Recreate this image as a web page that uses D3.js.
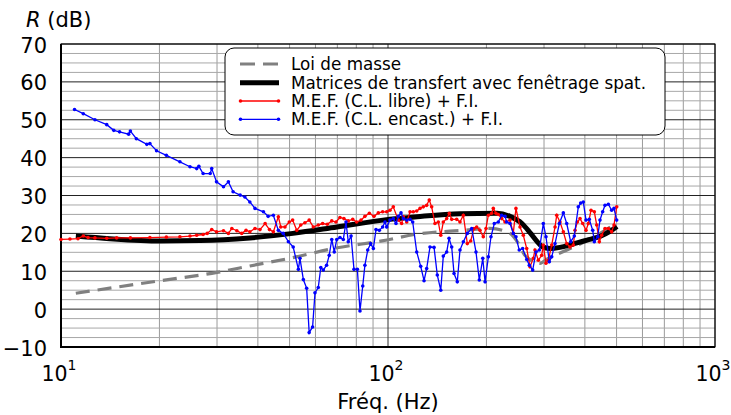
<!DOCTYPE html>
<html><head><meta charset="utf-8">
<script src="https://cdn.jsdelivr.net/npm/d3@7"></script>
<style>body{margin:0;background:#fff}svg{display:block;font-family:"DejaVu Sans",sans-serif}</style>
</head><body><svg id="c" width="731" height="415"></svg>
<script>
// ---- data ----
const xTicks = [10, 100, 1000];
const xTickExp = ["1", "2", "3"];
const yTicks = [-10, 0, 10, 20, 30, 40, 50, 60, 70];
const seriesNames = ["Loi de masse", "Matrices de transfert avec fenêtrage spat.", "M.E.F. (C.L. libre) + F.I.", "M.E.F. (C.L. encast.) + F.I."];

const massF = [11.1,20.1,30.0,37.8,51.2,68.9,95.9,122.7,169.6,205.1,236.1,249.8,262.4,291.6,308.6,335.7,414.7,501.4];
const massR = [4.2,7.5,9.7,11.4,13.6,16.1,18.0,19.8,20.8,21.3,20.0,17.5,14.2,12.1,13.4,14.8,18.5,22.8];

const tmmF = [11.1,14.1,20.1,26.6,37.8,51.2,69.8,96.5,122.7,166.0,215.4,236.1,256.9,271.8,285.5,295.8,312.9,335.7,367.9,406.1,444.9,477.4,501.4];
const tmmR = [19.3,18.6,18.0,18.1,18.8,20.0,21.7,23.5,24.4,25.2,25.3,24.5,22.6,20.2,17.9,16.5,16.0,16.3,17.2,18.2,19.2,20.5,21.8];

const libreF = [10.0,10.65,11.27,11.7,12.1,12.7,13.8,14.8,16.3,18.7,21.0,23.1,24.8,26.0,27.2,28.0,28.9,29.9,31.4,32.5,33.3,34.5,35.7,36.8,37.8,39.2,40.6,42.1,43.4,44.6,46.2,47.0,48.4,49.9,51.1,52.6,54.1,55.7,57.4,59.1,61.2,63.1,65.2,67.3,69.3,71.3,73.3,75.6,78.0,80.2,82.7,85.0,87.7,90.6,93.4,96.3,99.1,101.4,103.8,107.5,110.1,111.4,114.1,116.8,119.5,122.4,125.3,128.2,131.3,133.7,136.0,139.2,142.5,145.0,147.6,151.2,154.0,156.6,162.2,166.0,170.0,174.8,179.0,183.2,186.7,191.1,195.6,199.4,202.7,207.5,209.9,213.9,217.4,222.7,228.0,236.1,241.6,246.2,253.3,259.3,265.6,271.8,278.2,281.5,288.2,295.1,298.5,304.2,309.2,316.7,324.2,328.1,335.7,343.7,352.0,360.3,368.8,373.2,379.3,386.6,394.0,403.2,409.8,417.7,427.5,434.8,442.8,450.3,460.9,471.8,483.1,491.0,500.5];
const libreR = [18.4,18.5,18.6,19.3,18.9,18.8,18.7,18.8,18.8,18.9,19.0,19.1,19.3,19.5,19.7,20.0,21.0,20.4,20.7,20.0,21.3,20.7,20.0,20.8,20.4,21.3,21.0,22.6,21.0,20.4,24.4,21.7,21.7,23.0,23.5,20.8,22.2,22.8,23.5,21.7,22.2,22.6,22.4,23.3,23.0,24.2,23.9,23.3,23.7,23.0,23.5,24.5,25.3,24.5,25.4,25.7,25.7,26.1,27.0,23.5,22.6,24.4,23.0,25.7,25.7,25.9,26.6,27.0,27.4,28.8,27.0,22.6,23.0,19.5,23.0,23.9,25.3,23.7,23.7,23.0,24.8,17.3,18.0,21.3,21.7,20.8,19.1,21.3,24.8,25.3,26.6,25.3,25.0,23.9,23.0,23.5,20.0,26.6,21.7,19.5,16.0,11.2,13.4,15.6,12.9,14.2,16.9,12.1,12.9,16.9,21.7,24.8,23.0,20.4,17.3,16.4,16.9,20.8,23.0,23.9,22.6,20.8,22.6,26.1,25.7,22.2,17.8,19.5,21.3,21.3,20.4,22.2,27.0];

const encastF = [11.0,11.7,12.7,13.8,14.5,15.1,16.1,16.3,17.0,18.3,18.7,19.6,21.0,23.1,24.8,26.0,26.4,27.2,28.6,28.9,29.9,31.4,32.5,33.6,35.3,36.5,37.8,39.2,41.6,43.0,44.6,46.2,47.8,49.6,51.3,53.2,53.8,55.1,56.4,57.4,58.8,59.8,61.2,62.3,63.4,64.9,66.1,67.3,68.5,69.7,71.3,73.0,74.4,75.6,77.1,78.7,80.6,82.1,83.7,85.0,86.7,88.5,90.2,91.9,94.1,96.3,97.9,99.1,101.4,103.8,105.8,107.5,109.6,111.4,114.1,116.8,119.0,122.4,125.9,128.9,131.3,134.4,138.3,141.5,145.0,147.6,151.2,153.7,156.6,159.2,162.9,166.0,170.0,174.8,180.3,185.8,190.2,194.9,198.1,202.7,206.5,211.4,217.4,222.7,228.0,230.7,236.1,241.6,246.2,252.0,258.1,265.6,270.5,277.0,283.6,290.2,298.5,304.2,311.4,316.7,324.2,334.2,343.7,352.0,362.0,371.3,381.9,388.4,395.6,403.2,412.6,422.7,427.5,437.8,444.9,453.4,460.9,471.8,483.1,491.0,500.5];
const encastR = [52.7,51.6,50.0,48.7,47.2,46.8,46.2,47.0,45.0,43.5,43.7,41.8,40.6,38.9,37.6,37.1,37.7,35.8,35.8,37.1,33.6,32.3,33.6,31.0,30.1,29.6,28.3,26.6,25.7,24.5,24.8,20.8,20.0,17.8,16.4,10.5,13.4,7.8,5.5,-6.2,-4.7,4.3,5.7,11.0,10.3,11.6,14.2,18.4,15.1,18.4,18.9,18.4,23.0,17.8,19.3,10.5,10.5,-0.5,6.1,11.6,15.6,17.3,16.0,21.0,20.8,21.7,23.0,21.7,23.5,23.9,22.6,24.5,25.4,23.9,23.5,23.7,23.0,15.1,11.3,7.5,10.7,16.4,16.3,9.0,5.0,14.0,15.1,18.7,16.4,9.4,7.2,15.6,17.8,20.0,21.3,15.1,7.7,13.4,7.2,13.8,19.1,22.6,23.0,24.8,24.5,23.0,22.6,20.0,19.1,15.6,16.0,13.1,11.6,10.3,15.1,15.6,22.6,19.1,12.5,13.8,17.3,22.6,25.4,22.6,17.8,19.3,27.0,28.0,28.3,23.5,23.7,20.8,17.8,19.1,23.5,25.7,27.4,27.7,26.1,26.6,23.5];

// ---- drawing ----
const svg = d3.select("#c");
const x = d3.scaleLog().domain([10, 1000]).range([61, 715]);
const y = d3.scaleLinear().domain([-10, 70]).range([347, 44]);

const g = svg.append("g");
// minor grid
const minorX = [];
[10, 100].forEach(d => { for (let k = 2; k <= 9; k++) minorX.push(d * k); });
g.selectAll("line.mx").data(minorX).enter().append("line")
  .attr("x1", d => x(d)).attr("x2", d => x(d)).attr("y1", y(-10)).attr("y2", y(70))
  .attr("stroke", "#9a9a9a").attr("stroke-width", 1);
const minorY = d3.range(-10, 70, 2.5).filter(v => Math.abs(v % 10) > 0.1);
g.selectAll("line.my").data(minorY).enter().append("line")
  .attr("x1", x(10)).attr("x2", x(1000)).attr("y1", d => y(d)).attr("y2", d => y(d))
  .attr("stroke", "#a8a8a8").attr("stroke-width", 1);
// major grid
g.selectAll("line.My").data(yTicks).enter().append("line")
  .attr("x1", x(10)).attr("x2", x(1000)).attr("y1", d => y(d)).attr("y2", d => y(d))
  .attr("stroke", "#222").attr("stroke-width", 1);
g.selectAll("line.Mx").data(xTicks).enter().append("line")
  .attr("x1", d => x(d)).attr("x2", d => x(d)).attr("y1", y(-10)).attr("y2", y(70))
  .attr("stroke", "#333").attr("stroke-width", 1);
// frame
g.append("rect").attr("x", x(10)).attr("y", y(70)).attr("width", x(1000) - x(10)).attr("height", y(-10) - y(70))
  .attr("fill", "none").attr("stroke", "#000").attr("stroke-width", 1);
g.append("line").attr("x1", x(10)).attr("x2", x(10)).attr("y1", y(70)).attr("y2", y(-10) + 1).attr("stroke", "#000").attr("stroke-width", 2);
g.append("line").attr("x1", x(10) - 1).attr("x2", x(1000)).attr("y1", y(-10)).attr("y2", y(-10)).attr("stroke", "#000").attr("stroke-width", 2);

const zip = (F, R) => F.map((f, i) => [f, R[i]]);
const lineLin = d3.line().x(d => x(d[0])).y(d => y(d[1]));
const lineSmooth = d3.line().x(d => x(d[0])).y(d => y(d[1])).curve(d3.curveMonotoneX);

// mass law
svg.append("path").datum(zip(massF, massR)).attr("d", lineSmooth)
  .attr("fill", "none").attr("stroke", "#808080").attr("stroke-width", 3.2).attr("stroke-dasharray", "14,8");
// transfer matrices
svg.append("path").datum(zip(tmmF, tmmR)).attr("d", lineSmooth)
  .attr("fill", "none").attr("stroke", "#000").attr("stroke-width", 5).attr("stroke-linejoin", "round");
// FEM series
function fem(F, R, col) {
  const data = zip(F, R);
  svg.append("path").datum(data).attr("d", lineLin).attr("fill", "none").attr("stroke", col).attr("stroke-width", 1.3);
  svg.append("g").selectAll("circle").data(data).enter().append("circle")
    .attr("cx", d => x(d[0])).attr("cy", d => y(d[1])).attr("r", 1.8).attr("fill", col);
}
fem(libreF, libreR, "#ff0000");
fem(encastF, encastR, "#0000ff");

// axis labels
svg.selectAll("text.yt").data(yTicks).enter().append("text")
  .attr("x", 47).attr("y", d => y(d) + 8.5).attr("text-anchor", "end").attr("font-size", 21)
  .text(d => d < 0 ? "\u2212" + Math.abs(d) : d);
const xt = svg.selectAll("text.xt").data(xTicks).enter().append("text")
  .attr("x", d => x(d) - 2).attr("y", 381).attr("text-anchor", "middle").attr("font-size", 20.5);
xt.append("tspan").text("10");
xt.append("tspan").attr("dy", -11).attr("font-size", 14).text((d, i) => xTickExp[i]);
svg.append("text").attr("x", 388).attr("y", 409).attr("text-anchor", "middle").attr("font-size", 21).text("Fréq. (Hz)");
const yl = svg.append("text").attr("x", 26).attr("y", 27).attr("font-size", 21);
yl.append("tspan").attr("font-style", "italic").text("R");
yl.append("tspan").text(" (dB)");

// legend
const lg = svg.append("g");
lg.append("rect").attr("x", 225).attr("y", 48).attr("width", 440).attr("height", 87).attr("rx", 9)
  .attr("fill", "#fff").attr("stroke", "#000").attr("stroke-width", 1);
const rowsY = [64, 82.7, 101, 119.3];
const styles = [
  {c: "#808080", w: 3.2, dash: "15,8", dots: false},
  {c: "#000", w: 5, dash: null, dots: false},
  {c: "#ff0000", w: 1.3, dash: null, dots: true},
  {c: "#0000ff", w: 1.3, dash: null, dots: true}
];
seriesNames.forEach((name, i) => {
  const s = styles[i], cy = rowsY[i];
  const l = lg.append("line").attr("x1", 240).attr("x2", 279).attr("y1", cy).attr("y2", cy)
    .attr("stroke", s.c).attr("stroke-width", s.w);
  if (s.dash) l.attr("stroke-dasharray", s.dash);
  if (s.dots) [240.5, 278.5].forEach(px => lg.append("circle").attr("cx", px).attr("cy", cy).attr("r", 1.8).attr("fill", s.c));
  lg.append("text").attr("x", 291).attr("y", cy + 6).attr("font-size", 16.8).text(name);
});
</script></body></html>
